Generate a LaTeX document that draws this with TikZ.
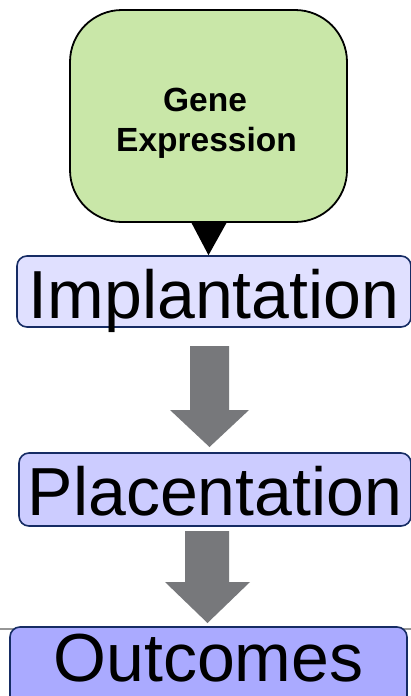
\documentclass[tikz,border=0pt]{standalone}
\usepackage{fontspec}
\setmainfont{Liberation Sans}
\usetikzlibrary{calc}
\definecolor{geneg}{RGB}{201,231,168}
\definecolor{lav1}{RGB}{224,224,255}
\definecolor{lav2}{RGB}{204,204,255}
\definecolor{lav3}{RGB}{170,170,255}
\definecolor{navy}{RGB}{22,44,100}
\definecolor{arrgray}{RGB}{119,120,123}
\definecolor{rulegray}{RGB}{150,150,150}
\tikzset{
  stagebox/.style={draw=navy, line width=1.6pt, rounded corners=10pt, inner sep=0pt,
     font=\fontsize{68}{80}\selectfont, text=black},
  stagetext/.style={font=\fontsize{68}{80}\selectfont, text=black, anchor=base, inner sep=0pt},
  genebox/.style={draw=black, line width=1.8pt, fill=geneg, rounded corners=52pt,
     minimum width=277pt, minimum height=212pt, inner sep=0pt},
  genetext/.style={font=\bfseries\fontsize{33.5}{40}\selectfont, anchor=base, inner sep=0pt},
  blockarrow/.style={fill=arrgray, draw=none},
}
\begin{document}
\begin{tikzpicture}[x=1pt,y=-1pt]
\useasboundingbox (0,0) rectangle (411,696);
\clip (0,0) rectangle (411,696);
\fill[white] (0,0) rectangle (411,696);

% gene expression bubble
\node[genebox] (gene) at (208.5,116) {};
\node[genetext] (gt1) at (205,111) {Gene};
\node[genetext] (gt2) at (206.5,151) {Expression};

% horizontal rule
\coordinate (rl) at (0,629);
\coordinate (rr) at (411,629);
\draw[rulegray, line width=1.4pt] (rl) -- (rr);

% stages
\node[stagebox, fill=lav1, minimum width=394pt, minimum height=71pt,
      text height=53pt, text depth=0pt] (impl) at (214,291.5) {Implantation};
\node[stagebox, fill=lav2, minimum width=392pt, minimum height=73pt,
      text height=51pt, text depth=0pt] (plac) at (215,489.5) {Placentation};
\node[stagebox, fill=lav3, minimum width=397pt, minimum height=90pt] (outc) at (208.5,672) {};
\node[stagetext] (outct) at (208.5,681) {Outcomes};

% black triangle from gene to implantation
\fill[black] ($(gene.south)+(-17,0)$) -- ($(gene.south)+(18,0)$) -- (gene.south |- impl.north) -- cycle;

% block arrows
\fill[blockarrow] (190,346) -- (229,346) -- (229,410) -- (249,410) -- (209.5,447)
   -- (170,410) -- (190,410) -- cycle;
\fill[blockarrow] (185,531) -- (229,531) -- (229,582) -- (250,582) -- (207.5,623)
   -- (165,582) -- (185,582) -- cycle;
\end{tikzpicture}
\end{document}
